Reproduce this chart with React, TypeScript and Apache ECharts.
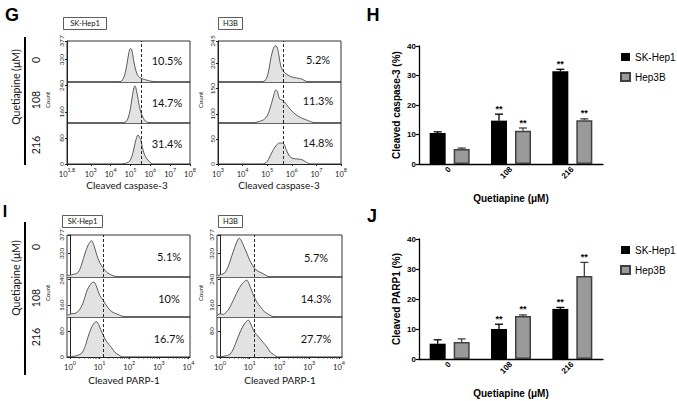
import React, { useEffect, useRef } from "react";
import * as echarts from "echarts";

// ---------- bar chart data ----------
const doseLabels = ["0", "108", "216"];
const seriesNames = ["SK-Hep1", "Hep3B"];
const caspaseSK = [10.5, 14.7, 31.4];
const caspaseSKErr = [0.4, 2.2, 0.7];
const caspaseHep = [5.1, 11.3, 14.8];
const caspaseHepErr = [0.3, 0.9, 0.5];
const parpSK = [5.1, 10.0, 16.7];
const parpSKErr = [1.3, 1.6, 0.5];
const parpHep = [5.7, 14.3, 27.7];
const parpHepErr = [1.0, 0.4, 4.5];
const sigSK = [false, true, true];
const sigHep = [false, true, true];

// ---------- flow histogram data (x = log10 intensity, y = count) ----------
const casSK0 = [[4.4,0],[4.55,3],[4.7,20],[4.82,55],[4.92,90],[5.0,103],[5.06,100],[5.15,70],[5.25,40],[5.35,22],[5.45,14],[5.6,10],[5.8,6],[6.0,3],[6.3,0]];
const casSK1 = [[4.6,0],[4.75,3],[4.88,15],[5.0,45],[5.1,85],[5.18,110],[5.23,114],[5.3,100],[5.38,75],[5.45,50],[5.55,28],[5.65,15],[5.75,6],[5.9,1],[6.0,0]];
const casSK2 = [[4.6,0],[4.8,3],[4.95,8],[5.08,25],[5.2,55],[5.3,80],[5.38,89],[5.45,82],[5.52,75],[5.6,50],[5.7,30],[5.8,18],[5.95,7],[6.1,0]];
const casH0 = [[4.8,0],[4.95,5],[5.05,20],[5.12,40],[5.22,62],[5.32,72],[5.4,70],[5.47,55],[5.55,32],[5.65,22],[5.8,15],[6.0,10],[6.2,8],[6.4,6],[6.55,2],[6.7,0]];
const casH1 = [[4.4,0],[4.6,2],[4.84,6],[5.0,14],[5.12,30],[5.25,52],[5.35,66],[5.42,62],[5.5,48],[5.6,46],[5.7,42],[5.86,32],[6.0,24],[6.13,18],[6.35,11],[6.55,7],[6.75,3],[6.95,0]];
const casH2 = [[4.85,0],[5.0,5],[5.1,14],[5.2,24],[5.32,34],[5.45,41],[5.55,42],[5.68,40],[5.78,28],[5.9,16],[6.05,11],[6.25,10],[6.45,8],[6.6,3],[6.75,0]];
const parpSK0 = [[-0.1,4],[0.1,8],[0.27,14],[0.4,40],[0.51,74],[0.62,100],[0.73,112],[0.8,100],[0.9,70],[1.0,45],[1.12,28],[1.25,14],[1.4,6],[1.6,0]];
const parpSK1 = [[-0.1,5],[0.05,10],[0.2,12],[0.32,22],[0.44,43],[0.55,75],[0.63,92],[0.72,104],[0.81,108],[0.88,98],[1.0,68],[1.12,52],[1.2,40],[1.29,28],[1.42,16],[1.59,9],[1.75,3],[1.9,0]];
const parpSK2 = [[-0.1,0],[0.1,2],[0.25,5],[0.4,12],[0.52,35],[0.61,62],[0.72,90],[0.82,105],[0.9,109],[0.97,100],[1.05,82],[1.12,68],[1.22,50],[1.32,38],[1.41,28],[1.52,14],[1.62,8],[1.76,0]];
const parpH0 = [[-0.1,4],[0.05,8],[0.15,12],[0.27,31],[0.36,55],[0.44,77],[0.55,105],[0.65,120],[0.72,112],[0.8,95],[0.9,74],[1.0,52],[1.15,28],[1.28,18],[1.41,12],[1.55,5],[1.65,0]];
const parpH1 = [[-0.1,4],[0.0,10],[0.1,8],[0.2,14],[0.3,25],[0.4,43],[0.5,62],[0.61,83],[0.72,100],[0.8,108],[0.9,114],[0.96,106],[1.05,85],[1.15,62],[1.25,45],[1.36,31],[1.5,16],[1.63,8],[1.8,0]];
const parpH2 = [[-0.1,0],[0.1,2],[0.25,5],[0.34,9],[0.45,25],[0.57,53],[0.7,82],[0.82,102],[0.95,114],[1.02,105],[1.1,88],[1.15,78],[1.3,62],[1.45,45],[1.58,31],[1.7,14],[1.8,8],[1.92,0]];

const casSKPct = ["10.5%", "14.7%", "31.4%"];
const casHPct = ["5.2%", "11.3%", "14.8%"];
const parpSKPct = ["5.1%", "10%", "16.7%"];
const parpHPct = ["5.7%", "14.3%", "27.7%"];

const casSKXTicks = [1.8, 3, 4, 5, 6, 7, 8];
const casHXTicks = [3, 4, 5, 6, 7, 8];
const parpXTicks = [0, 1, 2, 3, 4];
const count377Ticks = [0, 80, 160, 240, 320, 377];
const count245Ticks = [0, 50, 100, 150, 200, 245];
const casSKGate = 5.54;
const casHGate = 5.64;
const parpSKGate = 1.12;
const parpHGate = 1.15;

const FLOW_FONT = "Lato, 'Liberation Sans', sans-serif";
const BAR_FONT = "'Liberation Sans', Arial, sans-serif";

function parpMinor(): number[] {
  const out: number[] = [];
  for (let d = 0; d < 4; d++) for (let k = 2; k <= 9; k++) out.push(d + Math.log10(k));
  return out;
}

type Panel = {
  left: number; width: number; rows: number[];
  xMin: number; xMax: number; xTicks: number[]; yMax: number; yTicks: number[];
  gate: number; curves: number[][][]; minor?: number[];
  pct: string[]; pctX: number; pctY: number[];
};

const panels: Panel[] = [
  { left: 67, width: 123, rows: [41, 82, 123, 164], xMin: 1.8, xMax: 8, xTicks: casSKXTicks, yMax: 377, yTicks: count377Ticks, gate: casSKGate, curves: [casSK0, casSK1, casSK2], pct: casSKPct, pctX: 167, pctY: [60, 102, 143] },
  { left: 218, width: 123, rows: [41, 82, 123, 164], xMin: 3, xMax: 8, xTicks: casHXTicks, yMax: 245, yTicks: count245Ticks, gate: casHGate, curves: [casH0, casH1, casH2], pct: casHPct, pctX: 318, pctY: [59, 100, 142] },
  { left: 67, width: 123, rows: [235, 277, 317, 357], xMin: -0.1, xMax: 4.05, xTicks: parpXTicks, yMax: 377, yTicks: count377Ticks, gate: parpSKGate, curves: [parpSK0, parpSK1, parpSK2], minor: parpMinor(), pct: parpSKPct, pctX: 169, pctY: [256, 298, 338] },
  { left: 217, width: 125, rows: [235, 277, 317, 357], xMin: -0.1, xMax: 4.1, xTicks: parpXTicks, yMax: 377, yTicks: count377Ticks, gate: parpHGate, curves: [parpH0, parpH1, parpH2], minor: parpMinor(), pct: parpHPct, pctX: 316, pctY: [257, 298, 338] },
];

function fmtExp(v: number): string {
  return Math.abs(v - 1.8) < 1e-6 ? "1.8" : String(Math.round(v));
}

function buildOption() {
  const grid: any[] = [];
  const xAxis: any[] = [];
  const yAxis: any[] = [];
  const series: any[] = [];
  const elements: any[] = [];

  const txt = (text: string, x: number, y: number, fontSize: number, opts: any = {}) => ({
    type: "text", x, y, rotation: opts.rotation || 0, z: 10,
    style: {
      text, fontSize, fontFamily: opts.font || FLOW_FONT, fontWeight: opts.bold ? "bold" : "normal",
      fill: opts.fill || "#111", align: opts.align || "center", verticalAlign: "middle",
      textAlign: opts.align || "center", textVerticalAlign: "middle",
    },
  });

  panels.forEach((p) => {
    const top = p.rows[0];
    const H = p.rows[3] - p.rows[0];
    const gi = grid.length;
    grid.push({ left: p.left, top, width: p.width, height: H, show: false });
    xAxis.push({
      gridIndex: gi, type: "value", min: p.xMin, max: p.xMax,
      axisLine: { show: true, lineStyle: { color: "#222", width: 1 } },
      axisTick: { show: true, length: 2, customValues: p.xTicks, lineStyle: { color: "#222" } },
      splitLine: { show: false },
      axisLabel: {
        customValues: p.xTicks, margin: 3, color: "#222",
        formatter: (v: number) => `{b|10}{s|${fmtExp(v)}}`,
        rich: {
          b: { fontSize: 7.5, fontFamily: FLOW_FONT, color: "#222", lineHeight: 11, verticalAlign: "bottom" },
          s: { fontSize: 5.5, fontFamily: FLOW_FONT, color: "#222", lineHeight: 11, verticalAlign: "top" },
        },
      },
    });
    yAxis.push({
      gridIndex: gi, type: "value", min: 0, max: p.yMax,
      axisLine: { show: true, lineStyle: { color: "#222", width: 1 } },
      axisTick: { show: true, length: 2, customValues: p.yTicks, lineStyle: { color: "#222" } },
      splitLine: { show: false },
      axisLabel: { customValues: p.yTicks, rotate: 90, fontSize: 6.5, fontFamily: FLOW_FONT, color: "#222", margin: 2 },
    });

    for (let r = 0; r < 3; r++) {
      const rt = p.rows[r];
      const rh = p.rows[r + 1] - p.rows[r];
      const ri = grid.length;
      grid.push({ left: p.left, top: rt, width: p.width, height: rh, show: true, borderColor: "#333", borderWidth: 1, backgroundColor: "transparent" });
      const isLast = r === 2 && p.minor;
      xAxis.push({
        gridIndex: ri, type: "value", min: p.xMin, max: p.xMax, show: !!isLast,
        axisLine: { show: false }, axisLabel: { show: false }, splitLine: { show: false },
        axisTick: isLast ? { show: true, length: 1.5, customValues: p.minor, lineStyle: { color: "#333" } } : { show: false },
      });
      yAxis.push({ gridIndex: ri, type: "value", min: 0, max: (p.yMax * rh) / H, show: false, splitLine: { show: false } });
      series.push({
        type: "line", xAxisIndex: ri, yAxisIndex: ri, data: p.curves[r], smooth: 0.3,
        showSymbol: false, symbol: "none", silent: true,
        lineStyle: { color: "#4a4a4a", width: 0.9 },
        areaStyle: { color: "#e2e2e2", opacity: 1 },
        markLine: {
          silent: true, symbol: ["none", "none"], label: { show: false },
          lineStyle: { type: [3, 2], color: "#111", width: 0.9 },
          data: [{ xAxis: p.gate }],
        },
      });
      elements.push(txt(p.pct[r], p.pctX, p.pctY[r], 11));
    }
  });

  // ----- bar charts -----
  const barDefs = [
    { top: 46, height: 118, sk: caspaseSK, skE: caspaseSKErr, hep: caspaseHep, hepE: caspaseHepErr, yName: "Cleaved caspase-3 (%)" },
    { top: 239, height: 120, sk: parpSK, skE: parpSKErr, hep: parpHep, hepE: parpHepErr, yName: "Cleaved PARP1 (%)" },
  ];
  const legends: any[] = [];
  barDefs.forEach((b) => {
    const gi = grid.length;
    grid.push({ left: 419, top: b.top, width: 184, height: b.height, show: false });
    xAxis.push({
      gridIndex: gi, type: "category", data: doseLabels,
      axisLine: { lineStyle: { color: "#000", width: 1.3 } },
      axisTick: { alignWithLabel: true, length: 3, lineStyle: { color: "#000", width: 1.2 } },
      axisLabel: { rotate: 45, fontSize: 8, fontWeight: "bold", fontFamily: BAR_FONT, color: "#000", margin: 4 },
      name: "Quetiapine (μM)", nameLocation: "middle", nameGap: 29,
      nameTextStyle: { fontSize: 10, fontWeight: "bold", fontFamily: BAR_FONT, color: "#000" },
    });
    yAxis.push({
      gridIndex: gi, type: "value", min: 0, max: 40, interval: 10,
      axisLine: { show: true, lineStyle: { color: "#000", width: 1.3 } },
      axisTick: { show: true, length: 3, lineStyle: { color: "#000", width: 1.2 } },
      axisLabel: { fontSize: 8, fontWeight: "bold", fontFamily: BAR_FONT, color: "#000", margin: 3 },
      splitLine: { show: false },
      name: b.yName, nameLocation: "middle", nameGap: 18, nameRotate: 90,
      nameTextStyle: { fontSize: 10, fontWeight: "bold", fontFamily: BAR_FONT, color: "#000" },
    });
    series.push({
      type: "bar", name: seriesNames[0], xAxisIndex: gi, yAxisIndex: gi, data: b.sk,
      barWidth: 16, barGap: "50%", itemStyle: { color: "#000" }, silent: true,
    });
    series.push({
      type: "bar", name: seriesNames[1], xAxisIndex: gi, yAxisIndex: gi, data: b.hep,
      barWidth: 16, barGap: "50%", itemStyle: { color: "#9a9a9a", borderColor: "#404040", borderWidth: 1.5 }, silent: true,
    });
    const errSeries = (vals: number[], errs: number[], sig: boolean[], offset: number, color: string) => ({
      type: "custom", xAxisIndex: gi, yAxisIndex: gi, z: 5, silent: true,
      data: vals.map((v, i) => [i, v, errs[i], sig[i] ? 1 : 0]),
      encode: { x: 0, y: 1 },
      renderItem: (params: any, api: any) => {
        const i = api.value(0), v = api.value(1), e = api.value(2), s = api.value(3);
        const p0 = api.coord([i, v]);
        const p1 = api.coord([i, v + e]);
        const x = p0[0] + offset;
        const children: any[] = [
          { type: "line", shape: { x1: x, y1: p0[1], x2: x, y2: p1[1] }, style: { stroke: color, lineWidth: 1.3 } },
          { type: "line", shape: { x1: x - 4, y1: p1[1], x2: x + 4, y2: p1[1] }, style: { stroke: color, lineWidth: 1.3 } },
        ];
        if (s) {
          children.push({
            type: "text",
            style: { text: "**", x, y: p1[1] - 1, align: "center", verticalAlign: "bottom", fontSize: 9, fontWeight: "bold", fontFamily: BAR_FONT, fill: "#000" },
          });
        }
        return { type: "group", children };
      },
    });
    series.push(errSeries(b.sk, b.skE, sigSK, -12, "#000"));
    series.push(errSeries(b.hep, b.hepE, sigHep, 12, "#404040"));
    legends.push({
      left: 615, top: b.top + 1, orient: "vertical", itemWidth: 9, itemHeight: 8, itemGap: 10, icon: "rect",
      data: seriesNames, selectedMode: false,
      textStyle: { fontSize: 10, fontFamily: BAR_FONT, color: "#000", padding: [0, 0, 0, 0] },
    });
  });

  // ----- decoration texts -----
  elements.push(txt("G", 12, 15, 18, { bold: true, font: BAR_FONT, fill: "#000" }));
  elements.push(txt("H", 373, 15, 18, { bold: true, font: BAR_FONT, fill: "#000" }));
  elements.push(txt("I", 5, 211, 16, { bold: true, font: BAR_FONT, fill: "#000" }));
  elements.push(txt("J", 372, 216, 18, { bold: true, font: BAR_FONT, fill: "#000" }));

  const boxes = [
    { t: "SK-Hep1", x: 63.5, y: 17.5, w: 43 },
    { t: "H3B", x: 218.5, y: 17.5, w: 24 },
    { t: "SK-Hep1", x: 62.5, y: 215.5, w: 40 },
    { t: "H3B", x: 218.5, y: 215.5, w: 24 },
  ];
  boxes.forEach((b) => {
    elements.push({ type: "rect", shape: { x: b.x, y: b.y, width: b.w, height: 12 }, style: { fill: "#fff", stroke: "#333", lineWidth: 0.8 }, z: 9 });
    elements.push(txt(b.t, b.x + b.w / 2, b.y + 6, 7.5));
  });

  const rot = Math.PI / 2;
  [{ qy: 87, ly: [37, 165], rowY: [60, 100, 145], cy: 100, ty: 185, title: "Cleaved caspase-3", tx: [127, 279] },
   { qy: 278, ly: [222, 375], rowY: [247, 298, 337], cy: 293, ty: 380, title: "Cleaved PARP-1", tx: [124, 280] }].forEach((s) => {
    elements.push(txt("Quetiapine (μM)", 16, s.qy, 10.5, { rotation: rot }));
    elements.push({ type: "line", shape: { x1: 25, y1: s.ly[0], x2: 25, y2: s.ly[1] }, style: { stroke: "#000", lineWidth: 2 } });
    doseLabels.forEach((d, i) => elements.push(txt(d, 36, s.rowY[i], 10.5, { rotation: rot })));
    elements.push(txt("Count", 47, s.cy, 6, { rotation: rot }));
    elements.push(txt("Count", 200, s.cy, 6, { rotation: rot }));
    elements.push(txt(s.title, s.tx[0], s.ty, 10));
    elements.push(txt(s.title, s.tx[1], s.ty, 10));
  });

  return {
    animation: false,
    backgroundColor: "#fff",
    textStyle: { fontFamily: BAR_FONT },
    grid, xAxis, yAxis, series,
    legend: legends,
    graphic: { elements },
  };
}

export default function App() {
  const ref = useRef<HTMLDivElement>(null);
  useEffect(() => {
    if (!ref.current) return;
    const chart = echarts.init(ref.current, null, { renderer: "svg" });
    chart.setOption(buildOption());
    return () => chart.dispose();
  }, []);
  return <div ref={ref} style={{ position: "absolute", left: 0, top: 0, width: 677, height: 401 }} />;
}
